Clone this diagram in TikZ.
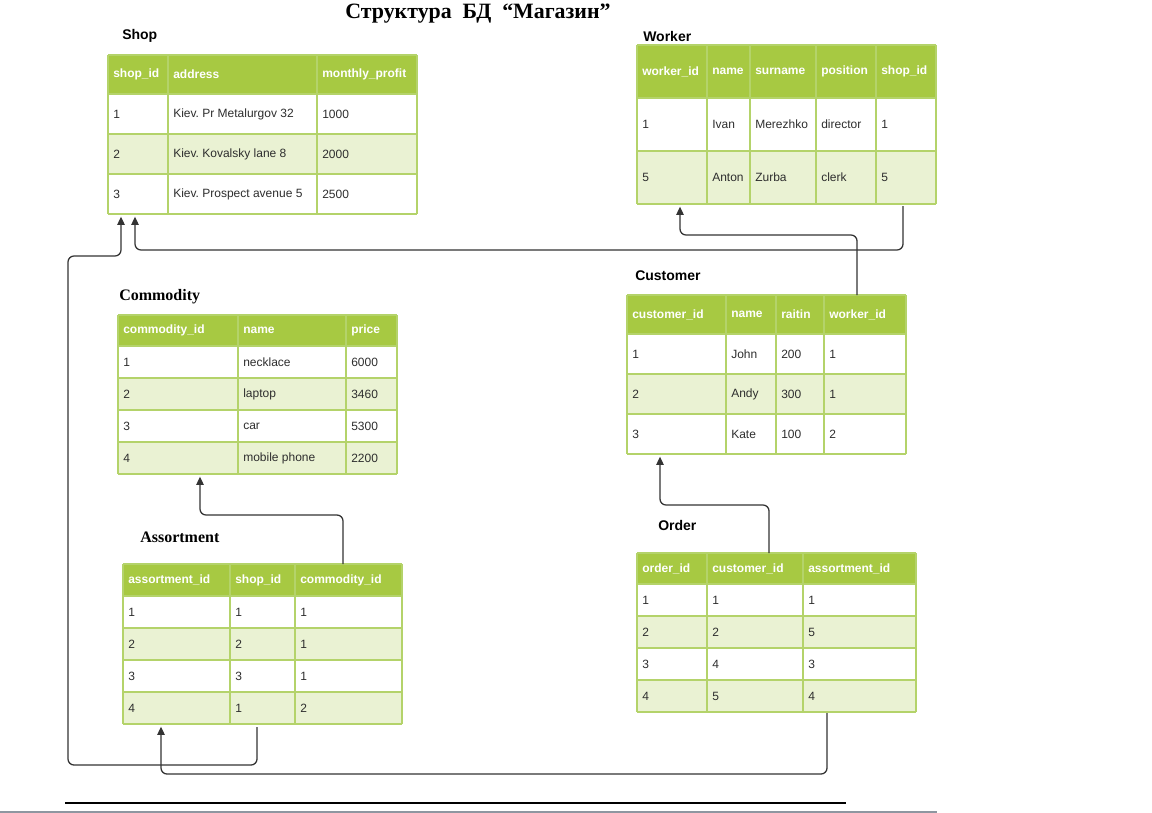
\documentclass[tikz,border=0pt]{standalone}
\usepackage{fontspec}
\setmainfont{Liberation Sans}
\newfontfamily\serifbf{Liberation Serif}
\usetikzlibrary{arrows.meta,calc,fit}
\frenchspacing
\definecolor{hdr}{HTML}{A7C942}
\definecolor{rowalt}{HTML}{EAF2D3}
\definecolor{gridc}{HTML}{B4D36A}
\definecolor{txt}{HTML}{2E2E2E}
\definecolor{conn}{HTML}{333333}
\definecolor{rulegray}{HTML}{8E96A0}
\tikzset{
  htxt/.style={anchor=west,inner sep=0pt,text=white,font=\fontsize{9}{10}\selectfont\bfseries},
  ctxt/.style={anchor=west,inner sep=0pt,text=txt,font=\fontsize{9}{10}\selectfont},
  tlabel/.style={anchor=west,inner sep=0pt,font=\fontsize{10.5}{12}\selectfont\bfseries},
  slabel/.style={anchor=west,inner sep=0pt,font=\fontsize{12}{14}\selectfont\serifbf\bfseries},
  gridl/.style={draw=gridc,line width=1.1pt},
  connector/.style={draw=conn,line width=0.95pt,rounded corners=4.5pt,-{Triangle[length=6.2pt,width=5.6pt]},shorten >=2pt},
}
% #1 name, #2 column bounds, #3 number of columns, #4 top y, #5 header height,
% #6 row height, #7 number of rows, #8 header list, #9 rows list
\newcommand\dbtable[9]{%
  \pgfmathsetmacro\xL{{#2}[0]}%
  \pgfmathsetmacro\xR{{#2}[#3]}%
  \pgfmathsetmacro\yH{#4+#5}%
  \pgfmathsetmacro\yB{#4+#5+#7*#6}%
  \fill[hdr] (\xL,#4) rectangle (\xR,\yH);
  \foreach \r in {1,...,#7}{%
    \pgfmathsetmacro\ya{#4+#5+(\r-1)*#6}%
    \ifodd\r\def\fc{white}\else\def\fc{rowalt}\fi
    \fill[\fc] (\xL,\ya) rectangle (\xR,\ya+#6);
  }
  \foreach \r in {0,...,#7}{%
    \pgfmathsetmacro\ya{#4+#5+\r*#6}%
    \draw[gridl] (\xL,\ya) -- (\xR,\ya);
  }
  \draw[gridl] (\xL,#4) -- (\xR,#4);
  \foreach \c in {0,...,#3}{%
    \pgfmathsetmacro\xc{{#2}[\c]}%
    \draw[gridl] (\xc,#4) -- (\xc,\yB);
  }
  \foreach \h [count=\c from 0] in {#8}{%
    \pgfmathsetmacro\xc{{#2}[\c]}%
    \node[htxt] at (\xc+5,#4+#5/2) {\h};
  }
  \foreach \row [count=\r from 0] in {#9}{%
    \foreach \cell [count=\c from 0] in \row {%
      \pgfmathsetmacro\xc{{#2}[\c]}%
      \node[ctxt] at (\xc+5,#4+#5+\r*#6+#6/2) {\cell};
    }
  }
  \node[fit={(\xL,#4) (\xR,\yB)},inner sep=0pt,outer sep=0pt] (#1) {};
}
\begin{document}
\begin{tikzpicture}[x=0.75pt,y=-0.75pt]
\useasboundingbox (0,0) rectangle (1152,813);

\node[anchor=center,inner sep=0pt,font=\fontsize{16.4}{18}\selectfont\serifbf\bfseries] (title) at (478,14) {Структура\ \ БД\ \ “Магазин”};

\node[tlabel] (lshop) at (122,36) {Shop};
\node[tlabel] (lworker) at (643,36) {Worker};
\node[tlabel] (lcustomer) at (635,276) {Customer};
\node[tlabel] (lorder) at (658,525) {Order};
\node[slabel] (lcommodity) at (119,297) {Commodity};
\node[slabel] (lassort) at (140,537) {Assortment};

\dbtable{shop}{108,168,317,417}{3}{55}{39}{40}{3}%
  {shop\_id,address,monthly\_profit}%
  {{1,Kiev. Pr Metalurgov 32,1000},{2,Kiev. Kovalsky lane 8,2000},{3,Kiev. Prospect avenue 5,2500}}

\dbtable{worker}{637,707,750,816,876,936}{5}{45}{53}{53}{2}%
  {worker\_id,name,surname,position,shop\_id}%
  {{1,Ivan,Merezhko,director,1},{5,Anton,Zurba,clerk,5}}

\dbtable{commodity}{118,238,346,397}{3}{315}{31}{32}{4}%
  {commodity\_id,name,price}%
  {{1,necklace,6000},{2,laptop,3460},{3,car,5300},{4,mobile phone,2200}}

\dbtable{customer}{627,726,776,824,906}{4}{295}{39}{40}{3}%
  {customer\_id,name,raitin,worker\_id}%
  {{1,John,200,1},{2,Andy,300,1},{3,Kate,100,2}}

\dbtable{assort}{123,230,295,402}{3}{564}{32}{32}{4}%
  {assortment\_id,shop\_id,commodity\_id}%
  {{1,1,1},{2,2,1},{3,3,1},{4,1,2}}

\dbtable{order}{637,707,803,916}{3}{553}{31}{32}{4}%
  {order\_id,customer\_id,assortment\_id}%
  {{1,1,1},{2,2,5},{3,4,3},{4,5,4}}

% connectors
\draw[connector] ($(worker.south west)+(266,2)$) -- ++(0,44) -| ($(shop.south west)+(27,0)$);
\draw[connector] ($(customer.north west)+(230,0)$) -- ++(0,-60) -| ($(worker.south west)+(43,0)$);
\draw[connector] ($(assort.south west)+(134,3)$) -- ++(0,38) -- ++(-189,0) -- ++(0,-509) -| ($(shop.south west)+(13,0)$);
\draw[connector] ($(assort.north west)+(220,0)$) -- ++(0,-49) -| ($(commodity.south west)+(82,0)$);
\draw[connector] ($(order.north west)+(132,0)$) -- ++(0,-48) -| ($(customer.south west)+(33,0)$);
\draw[connector] ($(order.south west)+(190,1)$) -- ++(0,61) -| ($(assort.south west)+(38,0)$);

% bottom rules
\coordinate (rl) at (65,803);
\coordinate (rr) at (846,803);
\draw[line width=0.8pt] (rl) -- (rr);
\draw[line width=0.6pt] (313,803) -- (313,801.5);
\draw[line width=0.6pt] (656,803) -- (656,801.5);
\coordinate (gl) at (0,811.8);
\coordinate (gr) at (937,811.8);
\draw[rulegray,line width=1.6pt] (gl) -- (gr);
\end{tikzpicture}
\end{document}
